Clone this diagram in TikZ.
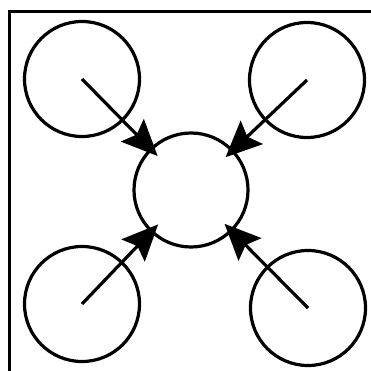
\documentclass[tikz,border=0pt]{standalone}
\usetikzlibrary{arrows.meta}
\begin{document}
\begin{tikzpicture}[x=1pt,y=-1pt,
  ring/.style={circle,draw,line width=3.2pt,minimum size=115pt,inner sep=0pt},
  frameline/.style={line width=3pt},
  feed/.style={line width=3.2pt,-{Stealth[length=36pt,width=32pt,inset=6pt]},shorten >=-11pt}]
\useasboundingbox (0,0) rectangle (371,371);
\clip (0,0) rectangle (371,371);
\fill[white] (0,0) rectangle (371,371);
\coordinate (fa) at (9,400);
\coordinate (fb) at (9,12);
\coordinate (fc) at (400,12);
\draw[frameline] (fa) -- (fb) -- (fc);
\node[ring,minimum size=114pt] (hub) at (191,190) {};
\node[ring] (tl) at (82,79) {};
\node[ring] (tr) at (307,80) {};
\node[ring] (bl) at (82,304) {};
\node[ring] (br) at (308,308) {};
\draw[feed] (tl.center) -- (hub);
\draw[feed] (tr.center) -- (hub);
\draw[feed] (bl.center) -- (hub);
\draw[feed] (br.center) -- (hub);
\end{tikzpicture}
\end{document}
